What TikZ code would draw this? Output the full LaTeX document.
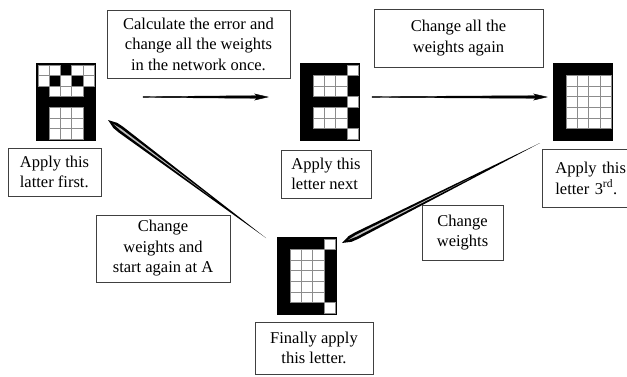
\documentclass[tikz,border=0pt]{standalone}
\usepackage{fontspec}
\setmainfont{Liberation Serif}
\usetikzlibrary{calc}
\tikzset{
  box/.style={draw=black!75, line width=0.7pt, fill=white, inner sep=0pt, align=center,
    font=\fontsize{16.5}{20.5}\selectfont},
  gridbox/.style={fill=black, minimum width=60pt, minimum height=78pt, inner sep=0pt},
  cell/.style={fill=white, draw=black!45, line width=0.5pt},
  needlefill/.style={fill=black},
  stripefill/.style={fill=black!25}
}
\newcommand\lettergrid[4]{%
  \node[gridbox, anchor=north west] (#1) at (#2,#3) {};
  \foreach \c/\r in {#4} {
    \filldraw[cell] ({#2+2+(\c-1)*11.2},{#3+2+(\r-1)*10.571}) rectangle ++(11.2,10.571);
  }
}
% flat needle: style, from, to, tail hw, neck hw, barb hw
\newcommand\needle[6]{%
  \filldraw[#1] ($(#2)!#4!90:(#3)$) -- ($(#3)!11pt!(#2)!#5!90:(#3)$)
    -- ($(#3)!13pt!(#2)!#6!90:(#3)$) -- (#3)
    -- ($(#3)!13pt!(#2)!#6!-90:(#3)$) -- ($(#3)!11pt!(#2)!#5!-90:(#3)$)
    -- ($(#2)!#4!-90:(#3)$) -- cycle;
}
% spindle needle with light inner stripe: from, to
\newcommand\spindle[2]{%
  \fill[needlefill] (#1) -- ($(#2)!16pt!(#1)!3.6pt!90:(#2)$)
    -- ($(#2)!9pt!(#1)!3.2pt!90:(#2)$) -- ($(#2)!4pt!(#1)!1.4pt!90:(#2)$) -- (#2)
    -- ($(#2)!4pt!(#1)!1.4pt!-90:(#2)$) -- ($(#2)!9pt!(#1)!3.2pt!-90:(#2)$)
    -- ($(#2)!16pt!(#1)!3.6pt!-90:(#2)$) -- cycle;
  \fill[stripefill] ($(#1)!0.35!(#2)$) -- ($(#2)!16pt!(#1)!0.9pt!90:(#2)$)
    -- ($(#2)!7pt!(#1)$) -- ($(#2)!16pt!(#1)!0.9pt!-90:(#2)$) -- cycle;
}
\begin{document}
\begin{tikzpicture}[x=1pt, y=-1pt]
\useasboundingbox (0,0) rectangle (627,376);

% letter grids
\lettergrid{gA}{36}{63}{1/1,2/1,4/1,5/1,1/2,3/2,5/2,2/3,3/3,4/3,2/5,3/5,4/5,2/6,3/6,4/6,2/7,3/7,4/7}
\lettergrid{gB}{300}{63}{5/1,2/2,3/2,4/2,2/3,3/3,4/3,5/4,2/5,3/5,4/5,2/6,3/6,4/6,5/7}
\lettergrid{gC}{553}{63}{2/2,3/2,4/2,5/2,2/3,3/3,4/3,5/3,2/4,3/4,4/4,5/4,2/5,3/5,4/5,5/5,2/6,3/6,4/6,5/6}
\lettergrid{gD}{277}{237}{5/1,2/2,3/2,4/2,2/3,3/3,4/3,2/4,3/4,4/4,2/5,3/5,4/5,2/6,3/6,4/6,5/7}

% text boxes
\node[box, minimum width=93pt, minimum height=48pt, align=left] (bA) at (54.5,172) {Apply this\\latter first.};
\node[box, minimum width=90pt, minimum height=48pt, align=left] (bB) at (326,174) {Apply this\\letter next};
\node[box, minimum height=58pt, align=left, text width=76pt, inner xsep=13pt, anchor=north west] (bC) at (542,149) {Apply this\\letter 3\textsuperscript{rd}.};
\node[box, minimum width=183pt, minimum height=68pt] (bCalc) at (198.5,44) {Calculate the error and\\change all the weights\\in the network once.};
\node[box, minimum width=169pt, minimum height=58pt] (bAgain) at (458.5,38) {Change all the\\weights again};
\node[box, minimum width=81pt, minimum height=55pt] (bChW) at (462.5,232.5) {Change\\weights};
\node[box, minimum width=134pt, minimum height=67pt] (bStart) at (163,248.5) {Change\\weights and\\start again at A};
\node[box, minimum width=118pt, minimum height=52pt] (bFinal) at (314,348) {Finally apply\\this letter.};

% arrow end points
\coordinate (a1s) at (143,97);
\coordinate (a1e) at (268,97);
\coordinate (a2s) at (372,97);
\coordinate (a2e) at (547,97);
\coordinate (a3s) at (266,238);
\coordinate (a3e) at (108,120);
\coordinate (a4s) at (540,143);
\coordinate (a4e) at (342,243);

\needle{needlefill}{a1s}{a1e}{0.4pt}{1.3pt}{3pt}
\needle{needlefill}{a2s}{a2e}{0.4pt}{1.3pt}{3pt}
\spindle{a3s}{a3e}
\spindle{a4s}{a4e}
\end{tikzpicture}
\end{document}
